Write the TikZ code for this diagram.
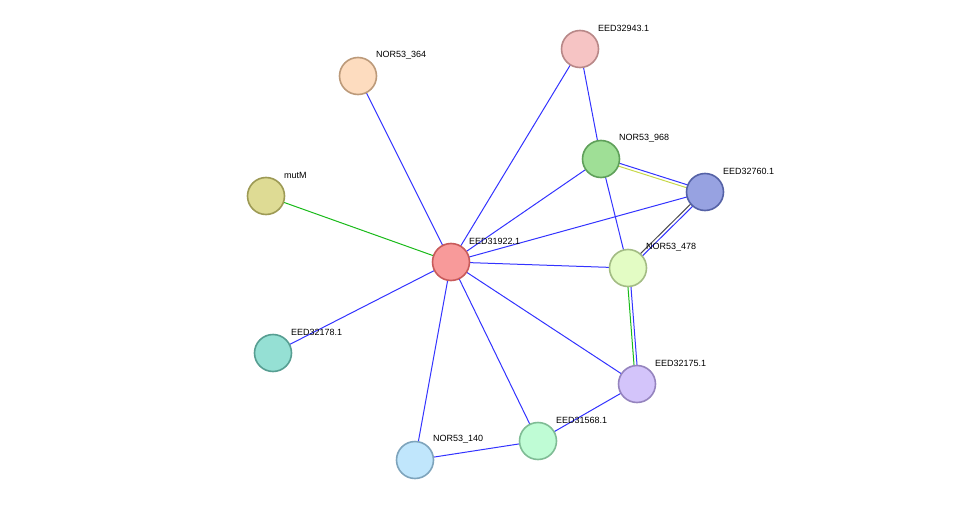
\documentclass[tikz,border=0pt]{standalone}
\usepackage{fontspec}
\setmainfont{Liberation Sans}
\usetikzlibrary{calc}
\begin{document}
\begin{tikzpicture}[x=1pt,y=-1pt,
  prot/.style={circle,minimum size=37pt,inner sep=0pt,line width=1.6pt},
  lab/.style={anchor=west,font=\fontsize{9}{11}\selectfont,inner sep=0pt},
  e/.style={line width=1pt,draw=blue!80!white},
  eg/.style={line width=1pt,draw=green!70!black!90},
  ey/.style={line width=1pt,draw={rgb,255:red,200;green,216;blue,74}},
  ek/.style={line width=1pt,draw=black!70}]
\useasboundingbox (0,0) rectangle (975,506);
\def\P#1#2#3#4#5#6{\node[prot,fill={rgb,255:#4},draw={rgb,255:#5}] (#1) at (#2,#3) {};
  \node[lab] (#1l) at (#2+18,#3-21) {#6};}
\coordinate (c) at (451,262);
\coordinate (a364) at (358,76);
\coordinate (a943) at (580,49);
\coordinate (a968) at (601,159);
\coordinate (a760) at (705,192);
\coordinate (amut) at (266,196);
\coordinate (a478) at (628,268);
\coordinate (a178) at (273,353);
\coordinate (a175) at (637,384);
\coordinate (a568) at (538,441);
\coordinate (a140) at (415,460);
\foreach \t in {a364,a943,a968,a760,a478,a175,a568,a140,a178} \draw[e] (c) -- (\t);
\draw[eg] (c) -- (amut);
\draw[e] (a943) -- (a968);
\draw[e] (a968) -- (a478);
\draw[e] (a175) -- (a568);
\draw[e] (a568) -- (a140);
\draw[e] ($(a968)!1.5pt!90:(a760)$) -- ($(a760)!1.5pt!-90:(a968)$);
\draw[ey] ($(a968)!1.5pt!-90:(a760)$) -- ($(a760)!1.5pt!90:(a968)$);
\draw[e] ($(a760)!1.5pt!90:(a478)$) -- ($(a478)!1.5pt!-90:(a760)$);
\draw[ek] ($(a760)!1.5pt!-90:(a478)$) -- ($(a478)!1.5pt!90:(a760)$);
\draw[e] ($(a478)!1.5pt!90:(a175)$) -- ($(a175)!1.5pt!-90:(a478)$);
\draw[eg] ($(a478)!1.5pt!-90:(a175)$) -- ($(a175)!1.5pt!90:(a478)$);
\P{n922}{451}{262}{red,248;green,154;blue,154}{red,200;green,90;blue,90}{EED31922.1}
\P{n364}{358}{76}{red,253;green,220;blue,191}{red,188;green,154;blue,122}{NOR53\_364}
\P{n943}{580}{49}{red,246;green,196;blue,196}{red,184;green,136;blue,136}{EED32943.1}
\P{n968}{601}{159}{red,159;green,223;blue,150}{red,95;green,160;blue,90}{NOR53\_968}
\P{n760}{705}{192}{red,151;green,162;blue,225}{red,85;green,98;blue,166}{EED32760.1}
\P{nmut}{266}{196}{red,222;green,219;blue,148}{red,157;green,154;blue,85}{mutM}
\P{n478}{628}{268}{red,227;green,252;blue,196}{red,163;green,188;blue,132}{NOR53\_478}
\P{n178}{273}{353}{red,149;green,224;blue,212}{red,87;green,158;blue,146}{EED32178.1}
\P{n175}{637}{384}{red,211;green,196;blue,250}{red,149;green,132;blue,190}{EED32175.1}
\P{n568}{538}{441}{red,191;green,252;blue,213}{red,127;green,188;blue,149}{EED31568.1}
\P{n140}{415}{460}{red,192;green,230;blue,252}{red,126;green,164;blue,188}{NOR53\_140}
\end{tikzpicture}
\end{document}
